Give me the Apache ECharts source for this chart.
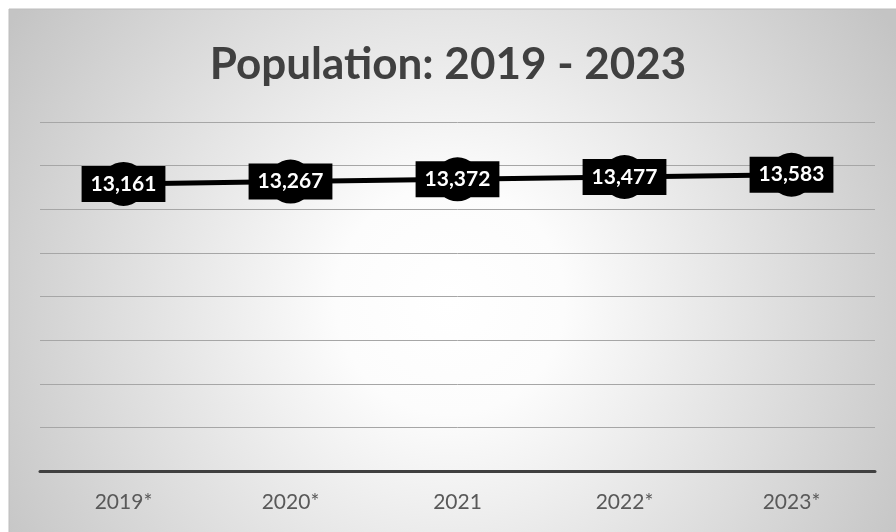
<!DOCTYPE html>
<html>
<head>
<meta charset="utf-8">
<script src="https://cdn.jsdelivr.net/npm/echarts@6/dist/echarts.min.js"></script>
<style>
  html, body { margin: 0; padding: 0; background: #ffffff; }
  #chart { width: 896px; height: 532px; }
</style>
</head>
<body>
<div id="chart"></div>
<script>
const titleText = 'Population: 2019 - 2023';
const categories = ['2019*', '2020*', '2021', '2022*', '2023*'];
const population = [13161, 13267, 13372, 13477, 13583];
const yMin = 0;
const yMax = 16000;
const yInterval = 2000;

const chart = echarts.init(document.getElementById('chart'), null, { renderer: 'canvas' });
const fmt = v => v.toLocaleString('en-US');

chart.setOption({
  backgroundColor: '#ffffff',
  animation: false,
  graphic: [
    {
      type: 'rect',
      z: -10,
      silent: true,
      shape: { x: 9, y: 9, width: 900, height: 540 },
      style: {
        fill: new echarts.graphic.RadialGradient(450, 300, 520, [
          { offset: 0, color: '#ffffff' },
          { offset: 0.22, color: '#fcfcfc' },
          { offset: 1, color: '#c4c4c4' }
        ], true),
        stroke: '#bdbdbd',
        lineWidth: 1
      }
    }
  ],
  title: {
    text: titleText,
    left: 'center',
    top: 38,
    textStyle: {
      fontFamily: 'Lato, sans-serif',
      fontWeight: 'bold',
      fontSize: 44,
      color: '#404040'
    }
  },
  grid: { left: 40, right: 21, top: 122, bottom: 61, containLabel: false },
  xAxis: {
    type: 'category',
    data: categories,
    boundaryGap: true,
    axisLine: { show: true, lineStyle: { color: '#404040', width: 3 } },
    axisTick: { show: false },
    axisLabel: {
      margin: 21,
      fontFamily: 'Lato, sans-serif',
      fontSize: 21,
      color: '#595959'
    },
    splitLine: { show: false }
  },
  yAxis: {
    type: 'value',
    min: yMin,
    max: yMax,
    interval: yInterval,
    axisLine: { show: false },
    axisTick: { show: false },
    axisLabel: { show: false },
    splitLine: { show: true, lineStyle: { color: '#a6a6a6', width: 1 } }
  },
  series: [
    {
      type: 'line',
      data: population,
      symbol: 'circle',
      symbolSize: 44,
      lineStyle: { color: '#000000', width: 5 },
      itemStyle: { color: '#000000' },
      label: {
        show: true,
        position: 'inside',
        formatter: p => fmt(p.value),
        backgroundColor: '#000000',
        color: '#ffffff',
        fontFamily: 'Lato, sans-serif',
        fontWeight: 'bold',
        fontSize: 21,
        lineHeight: 22,
        padding: [7, 9]
      },
      z: 5
    }
  ]
});
</script>
</body>
</html>
